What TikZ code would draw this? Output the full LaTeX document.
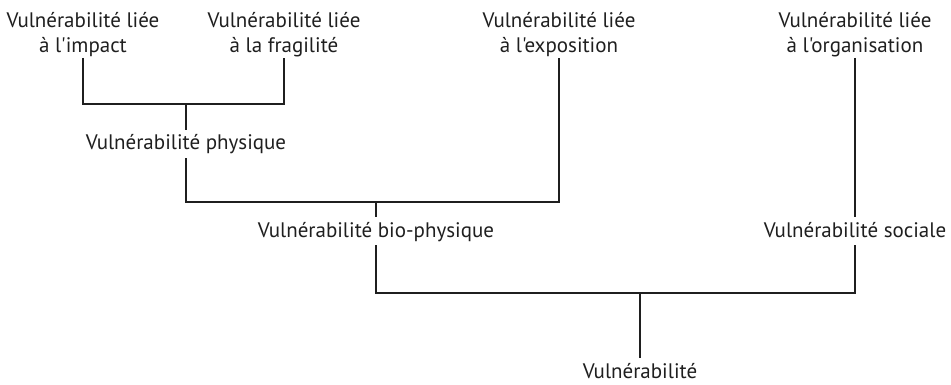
\documentclass[tikz,border=0pt]{standalone}
\usepackage{fontspec}
\setmainfont{PT Sans}[Ligatures=TeXOff]
\usetikzlibrary{positioning}

\begin{document}
\begin{tikzpicture}[x=1pt, y=-1pt, color={black!88},
    lab/.style={font=\fontsize{21}{25}\selectfont, inner xsep=0pt, inner ysep=3pt, text height=17pt, text depth=5pt, anchor=base},
    top/.style={font=\fontsize{21}{25}\selectfont, align=center, inner xsep=0pt, inner ysep=1pt, anchor=south},
    thickline/.style={line width=1.7pt},
    thinline/.style={line width=1.1pt}]

    \useasboundingbox (0,0) rectangle (951,385);

    % Nodes
    \node [top] (impact) at (83,58) {Vulnérabilité liée\\à l'impact};
    \node [top] (fragil) at (284,58) {Vulnérabilité liée\\à la fragilité};
    \node [top] (expo) at (559,58) {Vulnérabilité liée\\à l'exposition};
    \node [top] (orga) at (855,58) {Vulnérabilité liée\\à l'organisation};

    \node [lab] (phys) at (186,150) {Vulnérabilité physique};
    \node [lab] (bio) at (376,237) {Vulnérabilité bio-physique};
    \node [lab] (soc) at (855,237) {Vulnérabilité sociale};
    \node [lab] (vuln) at (640,378) {Vulnérabilité};

    % Junctions
    \coordinate (j1) at (186,104);
    \coordinate (j2) at (376,202);
    \coordinate (j3) at (640,293);

    % Lines
    \draw[thinline] (impact.south) |- (j1);
    \draw[thickline] (j1) -| (fragil.south);
    \draw[thickline] (j1) -- (phys.north);

    \draw[thickline] (phys.south) |- (j2) -| (expo.south);
    \draw[thickline] (j2) -- (bio.north);

    \draw[thickline] (orga.south) -- (soc.north);

    \draw[thickline] (bio.south) |- (j3) -| (soc.south);
    \draw[thinline] (j3) -- (vuln.north);

\end{tikzpicture}
\end{document}
